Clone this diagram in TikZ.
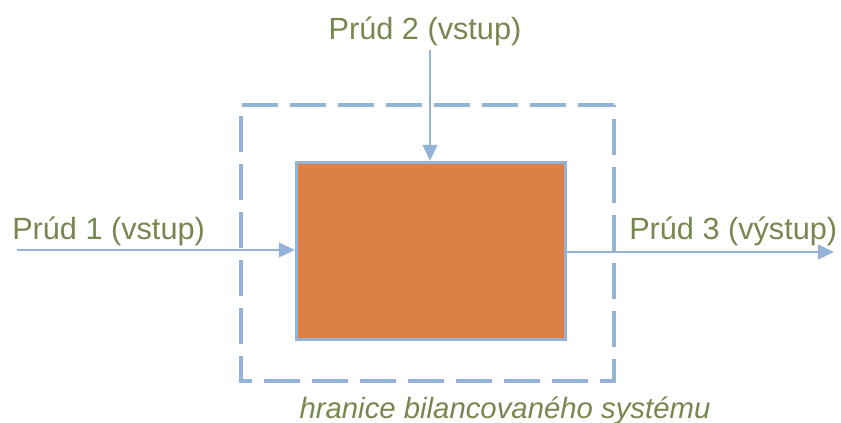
\documentclass[tikz,border=0pt]{standalone}
\usepackage{fontspec}
\setmainfont{Liberation Sans}
\usetikzlibrary{arrows.meta}
\definecolor{lblue}{HTML}{95B3D7}
\definecolor{orng}{HTML}{DD8047}
\definecolor{olive}{HTML}{77874F}
\begin{document}
\begin{tikzpicture}[x=0.75pt,y=-0.75pt,
  lbl/.style={font=\fontsize{23}{27}\selectfont, text=olive, inner sep=0pt},
  flow/.style={draw=lblue, line width=1.6pt, -{Triangle[length=12pt,width=11pt]}},
  boundary/.style={draw=lblue, line width=3pt, dash pattern=on 27pt off 9pt},
  unit/.style={draw=lblue, line width=2.2pt, fill=orng, minimum width=202pt, minimum height=133pt, inner sep=0pt}]
\useasboundingbox (0,0) rectangle (841,423);
\draw[boundary] (614,105) -- (241,105) -- (241,381) -- (614,381) -- cycle;
\node[unit] (box) at (431,251) {};
\coordinate (in1) at (17,250);
\coordinate (in2) at (430,50);
\coordinate (out3) at (834,252);
\draw[flow] (in1) -- (box.west |- in1);
\draw[flow] (in2) -- (box.north -| in2);
\draw[flow] (box.east |- out3) -- (out3);
\node[lbl, anchor=base west] (t1) at (12,240) {Prúd 1 (vstup)};
\node[lbl, anchor=base] (t2) at (425,40) {Prúd 2 (vstup)};
\node[lbl, anchor=base west] (t3) at (629,240) {Prúd 3 (výstup)};
\node[lbl, anchor=base, font=\fontsize{22}{26}\selectfont\itshape] (t4) at (505,418) {hranice bilancovaného systému};
\end{tikzpicture}
\end{document}
